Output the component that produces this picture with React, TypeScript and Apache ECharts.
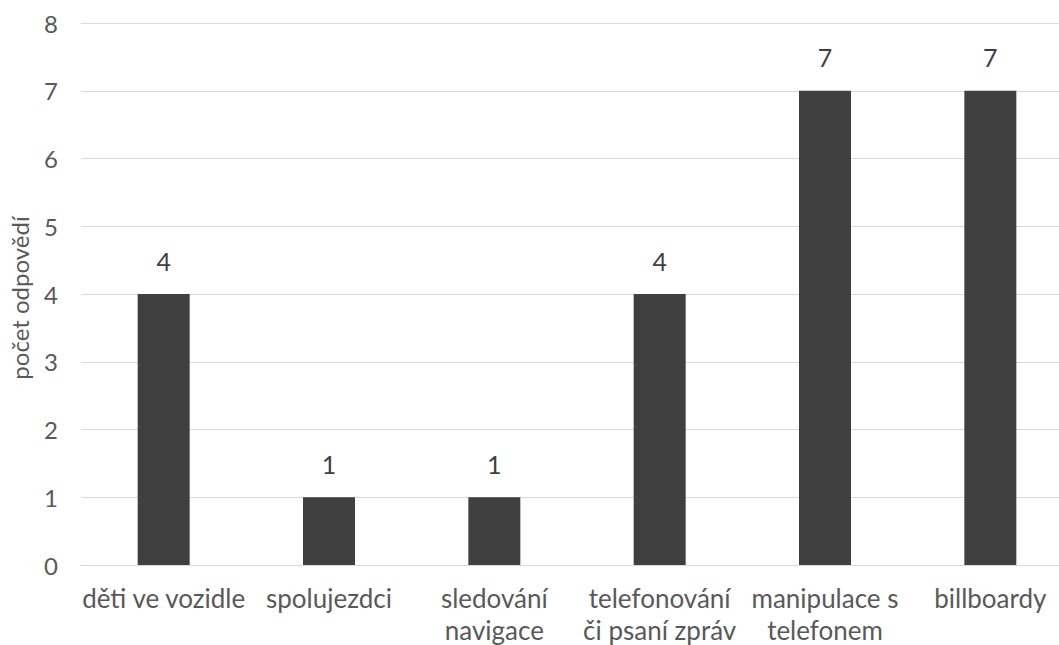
import React, { useEffect, useRef } from "react";
import * as echarts from "echarts";

const categories = [
  "děti ve vozidle",
  "spolujezdci",
  "sledování navigace",
  "telefonování či psaní zpráv",
  "manipulace s telefonem",
  "billboardy",
];
const categoryLabels = [
  "děti ve vozidle",
  "spolujezdci",
  "sledování\nnavigace",
  "telefonování\nči psaní zpráv",
  "manipulace s\ntelefonem",
  "billboardy",
];
const values = [4, 1, 1, 4, 7, 7];
const yAxisTitle = "počet odpovědí";

export default function App() {
  const ref = useRef<HTMLDivElement>(null);
  useEffect(() => {
    if (!ref.current) return;
    const chart = echarts.init(ref.current, undefined, { renderer: "svg" });
    const font = "Lato, 'Liberation Sans', sans-serif";
    chart.setOption({
      animation: false,
      backgroundColor: "#ffffff",
      grid: {
        left: 81,
        right: 0,
        top: 23,
        bottom: 80,
        containLabel: false,
        outerBoundsMode: "none",
      },
      xAxis: {
        type: "category",
        data: categories,
        axisLine: { show: true, lineStyle: { color: "#d9d9d9", width: 1 } },
        axisTick: { show: false },
        axisLabel: {
          color: "#595959",
          fontFamily: font,
          fontSize: 26,
          lineHeight: 32,
          margin: 17,
          interval: 0,
          formatter: (_v: string, i: number) => categoryLabels[i],
        },
      },
      yAxis: {
        type: "value",
        min: 0,
        max: 8,
        interval: 1,
        name: yAxisTitle,
        nameLocation: "middle",
        nameGap: 50,
        nameTextStyle: {
          color: "#595959",
          fontFamily: font,
          fontSize: 24,
          padding: [0, 8, 0, 0],
        },
        axisLine: { show: false },
        axisTick: { show: false },
        axisLabel: { color: "#595959", fontFamily: font, fontSize: 24, margin: 23 },
        splitLine: { lineStyle: { color: "#d9d9d9", width: 1 } },
      },
      series: [
        {
          type: "bar",
          data: values,
          barWidth: 52,
          itemStyle: { color: "#404040" },
          label: {
            show: true,
            position: "top",
            distance: 21,
            color: "#404040",
            fontFamily: font,
            fontSize: 25,
          },
        },
      ],
    });
    return () => chart.dispose();
  }, []);
  return (
    <div
      style={{
        position: "absolute",
        left: 0,
        top: 0,
        width: 1059,
        height: 645,
        overflow: "hidden",
      }}
    >
      <div ref={ref} style={{ width: 1073, height: 645 }} />
    </div>
  );
}
